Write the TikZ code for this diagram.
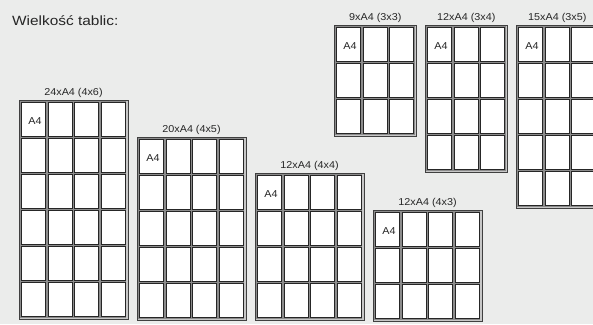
\documentclass[tikz,border=0pt]{standalone}
\usepackage{fontspec}
\setmainfont{Liberation Sans}[FakeStretch=1.08]
\newfontfamily\tytul{Liberation Sans}[FakeStretch=1.15]
\definecolor{tlo}{RGB}{235,236,235}
\tikzset{
  plansza/.style={fill=black!22, draw=black!75, line width=0.8pt},
  arkusz/.style={fill=white, draw=black!85, line width=0.8pt, preaction={draw=black!45, line width=2.2pt}},
  opis/.style={font=\fontsize{10}{12}\selectfont, text=black!85, inner sep=0pt, anchor=base},
}
\newcommand\tablica[6]{%
  \draw[plansza] (#2,#3) rectangle ++({26.5*#4+3},{36*#5+3});
  \foreach \i in {1,...,#4}
    \foreach \j in {1,...,#5}
      \draw[arkusz] ({#2+2.5+26.5*(\i-1)},{#3+2.5+36*(\j-1)}) rectangle ++(24,34);
  \node[opis] (#1) at ({#2+(26.5*#4+3)/2},{#3-5}) {#6};
  \node[opis] (#1-a4) at ({#2+16},{#3+24.5}) {A4};
}

\begin{document}
\begin{tikzpicture}[x=1pt, y=-1pt]
  \useasboundingbox (0,0) rectangle (593,324);
  \fill[tlo] (0,0) rectangle (593,324);
  \clip (0,0) rectangle (593,324);
  \node[anchor=base west, inner sep=0pt, text=black!85, font=\tytul\fontsize{13.4}{15}\selectfont] (tytul) at (12,25.7) {Wielkość tablic:};
  \tablica{t24}{19}{100}{4}{6}{24xA4 (4x6)}
  \tablica{t20}{137}{137}{4}{5}{20xA4 (4x5)}
  \tablica{t12a}{255}{173}{4}{4}{12xA4 (4x4)}
  \tablica{t12b}{373}{210}{4}{3}{12xA4 (4x3)}
  \tablica{t9}{334}{25}{3}{3}{9xA4 (3x3)}
  \tablica{t12c}{425}{25}{3}{4}{12xA4 (3x4)}
  \tablica{t15}{516}{25}{3}{5}{15xA4 (3x5)}
\end{tikzpicture}
\end{document}
